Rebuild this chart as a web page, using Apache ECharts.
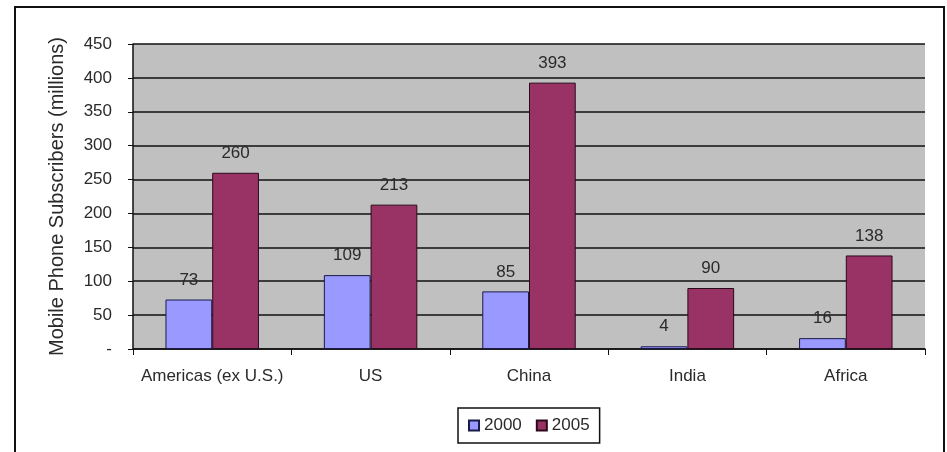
<!DOCTYPE html>
<html><head><meta charset="utf-8">
<script src="https://cdn.jsdelivr.net/npm/echarts@6/dist/echarts.min.js"></script>
<style>html,body{margin:0;padding:0;background:#fff}#c{width:947px;height:452px}</style>
</head><body><div id="c"></div>
<script>
const categories = ['Americas (ex U.S.)', 'US', 'China', 'India', 'Africa'];
const series2000 = [73, 109, 85, 4, 16];
const series2005 = [260, 213, 393, 90, 138];
const yTicks = [0, 50, 100, 150, 200, 250, 300, 350, 400, 450];

const chart = echarts.init(document.getElementById('c'), null, {renderer: 'canvas'});
const font = 'Liberation Sans, Arial, sans-serif';
const labelStyle = {show: true, position: 'top', distance: 11, color: '#2a2a2a', fontFamily: font, fontSize: 17};
chart.setOption({
  animation: false,
  backgroundColor: '#fff',
  graphic: [{type: 'rect', shape: {x: 15, y: 7, width: 929, height: 460}, style: {fill: 'none', stroke: '#111', lineWidth: 2}, z: 100}],
  grid: {left: 133, right: 22, top: 44, bottom: 103, show: true, backgroundColor: '#C0C0C0', borderWidth: 0},
  legend: {
    left: 458, top: 408,
    data: ['2000', '2005'], icon: 'rect', itemWidth: 10, itemHeight: 10, itemGap: 14,
    padding: [9, 10, 9, 10], borderColor: '#111', borderWidth: 1.5,
    textStyle: {fontFamily: font, fontSize: 17, color: '#2a2a2a'}
  },
  xAxis: {
    type: 'category', data: categories,
    axisLine: {lineStyle: {color: '#111', width: 1.5}},
    axisTick: {show: true, length: 6, lineStyle: {color: '#111'}},
    axisLabel: {interval: 0, color: '#2a2a2a', fontFamily: font, fontSize: 17, margin: 19}
  },
  yAxis: {
    type: 'value', min: 0, max: 450, interval: 50,
    name: 'Mobile Phone Subscribers (millions)', nameLocation: 'middle', nameGap: 66, nameRotate: 90,
    nameTextStyle: {fontFamily: font, fontSize: 20, color: '#2a2a2a'},
    axisLine: {show: true, lineStyle: {color: '#111', width: 1.5}},
    axisTick: {show: true, length: 5, lineStyle: {color: '#111'}},
    splitLine: {lineStyle: {color: '#111', width: 1.5}},
    axisLabel: {color: '#2a2a2a', fontFamily: font, fontSize: 17, margin: 21,
      formatter: v => yTicks.includes(v) ? (v === 0 ? '-' : String(v)) : ''}
  },
  series: [
    {name: '2000', type: 'bar', data: series2000, barGap: '0%', barCategoryGap: '41%',
      itemStyle: {color: '#9999FF', borderColor: '#1a1a4a', borderWidth: 1}, label: labelStyle},
    {name: '2005', type: 'bar', data: series2005,
      itemStyle: {color: '#993366', borderColor: '#2a0a1a', borderWidth: 1}, label: labelStyle}
  ]
});
</script></body></html>
